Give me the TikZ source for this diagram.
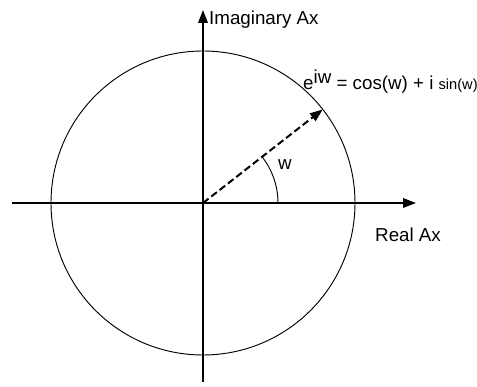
\documentclass[tikz,border=0pt]{standalone}
\usepackage{fontspec}
\setmainfont{Liberation Sans}
\usetikzlibrary{arrows.meta}
\tikzset{
    axis/.style={line width=1.7pt, -{Triangle[length=11pt, width=8pt]}},
    lbl/.style={font=\fontsize{16}{18}\selectfont, inner sep=0pt}
}
\begin{document}
\begin{tikzpicture}[scale=1]
        \useasboundingbox (-6.09,-5.52) rectangle (8.22,6.09);
        \coordinate (O) at (0,0);
        \coordinate (xl) at (-5.73,0);
        \coordinate (xr) at (6.39,0);
        \coordinate (yb) at (0,-5.37);
        \coordinate (yt) at (0,5.79);
        \coordinate (P) at (38:4.56);
        
        % Circulo unidad
        \draw[line width=0.8pt] (O) circle (4.56);
        
        % Ejes
        \draw[axis] (xl) -- (xr);
        \draw[axis] (yb) -- (yt);
        \node[lbl, anchor=west] (imag) at (0.18,5.49) {Imaginary Ax};
        \node[lbl, anchor=west] (real) at (5.16,-0.96) {Real Ax};
        
        % Vector e^{iw}
        \draw[line width=1.7pt, dash pattern=on 6pt off 3pt, -{Triangle[length=11pt, width=8pt]}] (O) -- (P);
        \node[lbl, anchor=west] (eq) at (3.0,3.63) {e\raisebox{0.6ex}{iw} = cos(w) + i {\fontsize{12.5}{14}\selectfont sin(w)}};
        
        % Angulo
        \draw[line width=0.8pt] (2.25,0) arc (0:38:2.25);
        \node[lbl] (w) at (2.46,1.14) {w};
    \end{tikzpicture}
\end{document}
